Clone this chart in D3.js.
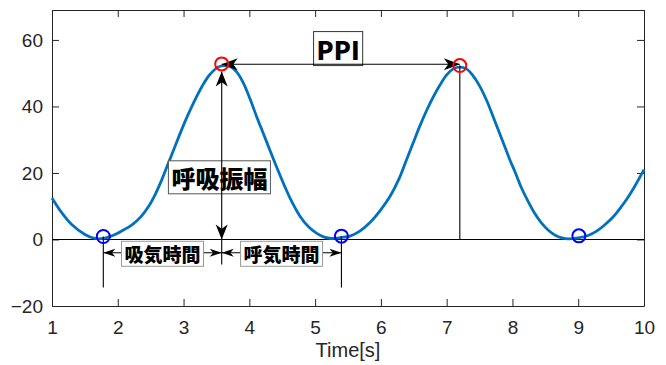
<!DOCTYPE html>
<html>
<head>
<meta charset="utf-8">
<script src="https://cdn.jsdelivr.net/npm/d3@7"></script>
<style>
  body { margin: 0; background: #fff; }
  svg { display: block; }
</style>
</head>
<body>
<script>
// respiration waveform
var time = [1.00, 1.15, 1.30, 1.50, 1.65, 1.80, 1.96, 2.10, 2.22, 2.35, 2.47, 2.57, 2.67, 2.75, 2.82, 2.93,
            3.03, 3.15, 3.28, 3.40, 3.53, 3.62, 3.71, 3.81, 3.91, 4.01, 4.11, 4.21, 4.31, 4.41, 4.52, 4.64,
            4.77, 4.90, 5.02, 5.14, 5.25, 5.40, 5.53, 5.68, 5.83, 6.00, 6.14, 6.27, 6.39, 6.49, 6.59, 6.70,
            6.80, 6.90, 7.00, 7.10, 7.20, 7.30, 7.40, 7.50, 7.61, 7.73, 7.85, 7.96, 8.04, 8.14, 8.24, 8.34,
            8.44, 8.55, 8.65, 8.75, 8.85, 9.00, 9.15, 9.28, 9.41, 9.54, 9.66, 9.76, 9.86, 9.93, 10.00];
var flow = [12.5, 8.0, 4.5, 1.5, 0.3, 0.4, 1.5, 3.0, 4.5, 6.8, 10.0, 13.6, 18.0, 22.0, 25.5, 31.0,
            35.8, 41.0, 46.0, 49.6, 51.9, 52.3, 52.0, 50.3, 47.0, 42.3, 37.0, 32.0, 27.0, 22.0, 16.8, 11.6,
            7.0, 3.8, 1.9, 0.7, 0.3, 0.6, 1.0, 2.5, 5.0, 9.0, 13.0, 18.0, 24.0, 29.0, 34.0, 39.0,
            43.0, 46.5, 49.5, 51.3, 51.8, 51.3, 49.3, 46.2, 41.7, 35.7, 29.6, 24.0, 20.3, 15.4, 11.4, 7.8,
            5.0, 2.7, 1.3, 0.5, 0.2, 0.5, 1.2, 2.5, 4.5, 7.0, 10.0, 12.8, 16.0, 18.5, 21.0];

var peakTime = [3.58, 7.20];
var peakValue = [52.8, 52.3];
var troughTime = [1.78, 5.40, 9.01];
var troughValue = [0.9, 1.0, 1.1];

var xTicks = [1, 2, 3, 4, 5, 6, 7, 8, 9, 10];
var yTicks = [-20, 0, 20, 40, 60];

// annotation levels (data units)
var ppiLevel = 52.7;
var ampTop = 50.5;
var timeArrowLevel = -4;
var splitBottom = -7.5;
var guideBottom = -14.4;

var w = 666;
var h = 365;
var margin = {top: 10, right: 22, bottom: 59, left: 52};

var svg = d3.select("body")
    .append("svg")
    .attr("width", w)
    .attr("height", h);

var x = d3.scaleLinear().domain([1, 10]).range([margin.left, w - margin.right]);
var y = d3.scaleLinear().domain([-20, 69]).range([h - margin.bottom, margin.top]);

var axisColor = "#262626";
var tickFont = "'Liberation Sans', Arial, sans-serif";
var jpFont = "'Noto Sans CJK JP', sans-serif";

// axes with inward ticks (box on)
svg.append("g")
    .attr("transform", "translate(0," + y(-20) + ")")
    .call(d3.axisBottom(x).tickValues(xTicks).tickSizeInner(-7).tickSizeOuter(0).tickPadding(15));
svg.append("g")
    .attr("transform", "translate(" + x(1) + ",0)")
    .call(d3.axisLeft(y).tickValues(yTicks).tickSizeInner(-7).tickSizeOuter(0).tickPadding(9));
svg.append("g")
    .attr("transform", "translate(0," + y(69) + ")")
    .call(d3.axisTop(x).tickValues(xTicks).tickSizeInner(-7).tickSizeOuter(0).tickFormat(""));
svg.append("g")
    .attr("transform", "translate(" + x(10) + ",0)")
    .call(d3.axisRight(y).tickValues(yTicks).tickSizeInner(-7).tickSizeOuter(0).tickFormat(""));

svg.selectAll(".domain").attr("stroke", axisColor);
svg.selectAll(".tick line").attr("stroke", axisColor);
svg.selectAll(".tick text")
    .attr("fill", axisColor)
    .style("font-family", tickFont)
    .style("font-size", "19px");

svg.append("text")
    .attr("x", (x(1) + x(10)) / 2)
    .attr("y", 357)
    .attr("text-anchor", "middle")
    .attr("fill", axisColor)
    .style("font-family", tickFont)
    .style("font-size", "20px")
    .text("Time[s]");

// zero line
svg.append("line")
    .attr("x1", x(1)).attr("x2", x(10))
    .attr("y1", y(0)).attr("y2", y(0))
    .attr("stroke", "#000").attr("stroke-width", 1.2);

// waveform
var line = d3.line()
    .x(function(d, i) { return x(time[i]); })
    .y(function(d) { return y(d); })
    .curve(d3.curveCatmullRom);

svg.append("path")
    .datum(flow)
    .attr("d", line)
    .attr("fill", "none")
    .attr("stroke", "#0072BD")
    .attr("stroke-width", 2.8);

// guide lines
function vline(t, v1, v2) {
    svg.append("line")
        .attr("x1", x(t)).attr("x2", x(t))
        .attr("y1", y(v1)).attr("y2", y(v2))
        .attr("stroke", "#000").attr("stroke-width", 1.1);
}
vline(troughTime[0], troughValue[0], guideBottom);
vline(troughTime[1], troughValue[1], guideBottom);
vline(peakTime[1], peakValue[1], 0);

function head(px, py, ang, len, wid) {
    // tip at (px,py) pointing along ang
    var p = [[0, 0], [-len, -wid / 2], [-len * 0.72, 0], [-len, wid / 2]];
    var c = Math.cos(ang), s = Math.sin(ang);
    var pts = p.map(function(q) { return [px + q[0] * c - q[1] * s, py + q[0] * s + q[1] * c]; });
    svg.append("path")
        .attr("d", "M" + pts.join("L") + "Z")
        .attr("fill", "#000");
}

function doubleArrow(t1, v1, t2, v2, len, wid) {
    var x1 = x(t1), y1 = y(v1), x2 = x(t2), y2 = y(v2);
    svg.append("line")
        .attr("x1", x1).attr("y1", y1).attr("x2", x2).attr("y2", y2)
        .attr("stroke", "#000").attr("stroke-width", 1.1);
    var a = Math.atan2(y2 - y1, x2 - x1);
    head(x2, y2, a, len, wid);
    head(x1, y1, a + Math.PI, len, wid);
}

function label(str, t, v, size, edge) {
    var g = svg.append("g");
    var txt = g.append("text")
        .attr("x", x(t)).attr("y", y(v))
        .attr("text-anchor", "middle")
        .attr("dominant-baseline", "central")
        .style("font-family", jpFont)
        .style("font-weight", "900")
        .style("font-size", size + "px")
        .attr("fill", "#000")
        .text(str);
    var b = txt.node().getBBox();
    g.insert("rect", "text")
        .attr("x", b.x - 3).attr("y", b.y + 1)
        .attr("width", b.width + 6).attr("height", b.height - 2)
        .attr("fill", "#fff")
        .attr("stroke", edge).attr("stroke-width", 1);
}

// time arrows and labels
doubleArrow(troughTime[0], timeArrowLevel, peakTime[0], timeArrowLevel, 12, 8);
doubleArrow(peakTime[0], timeArrowLevel, troughTime[1], timeArrowLevel, 12, 8);
label("吸気時間", (troughTime[0] + peakTime[0]) / 2, -4.3, 19, "#999");
label("呼気時間", (peakTime[0] + troughTime[1]) / 2, -4.3, 19, "#999");

label("呼吸振幅", 3.545, 18.7, 24, "#555");
label("PPI", 5.35, 57.4, 25, "#333");

// amplitude arrow drawn over the label
vline(peakTime[0], 0, splitBottom);
doubleArrow(peakTime[0], 0, peakTime[0], ampTop, 15, 12);
doubleArrow(peakTime[0], ppiLevel, peakTime[1], ppiLevel, 16, 12);

// detected peaks and troughs
svg.selectAll(".peak")
    .data(peakTime)
    .enter().append("circle")
    .attr("cx", function(d) { return x(d); })
    .attr("cy", function(d, i) { return y(peakValue[i]); })
    .attr("r", 6.5)
    .attr("fill", "none")
    .attr("stroke", "#ff0000")
    .attr("stroke-width", 2);

svg.selectAll(".trough")
    .data(troughTime)
    .enter().append("circle")
    .attr("cx", function(d) { return x(d); })
    .attr("cy", function(d, i) { return y(troughValue[i]); })
    .attr("r", 6.5)
    .attr("fill", "none")
    .attr("stroke", "#0000ff")
    .attr("stroke-width", 2);
</script>
</body>
</html>
